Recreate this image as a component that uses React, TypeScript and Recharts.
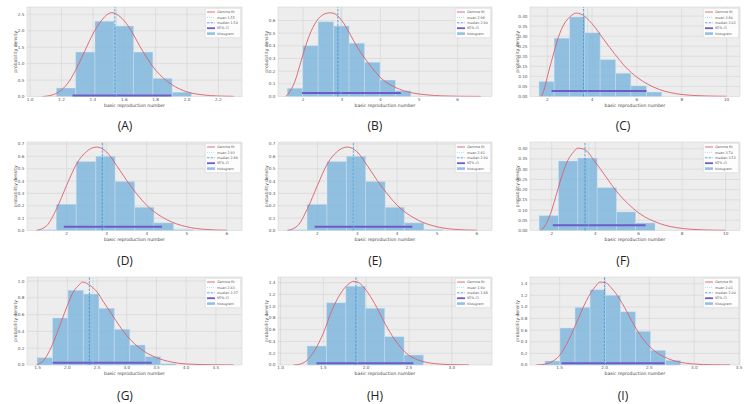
import React from 'react';
import {
  ComposedChart,
  Line,
  XAxis,
  YAxis,
  CartesianGrid,
  ReferenceArea,
  ReferenceLine,
  Legend,
} from 'recharts';

// ---------- Panel A ----------
const aBinEdges = [1.167, 1.29, 1.413, 1.536, 1.659, 1.782, 1.905, 2.028];
const aBinHeights = [0.26, 1.35, 2.29, 2.14, 1.35, 0.55, 0.13];
const aFitX = [1.08, 1.15, 1.2, 1.25, 1.3, 1.35, 1.4, 1.45, 1.5, 1.52, 1.55, 1.6, 1.65, 1.7, 1.8, 1.9, 2.0, 2.1, 2.2, 2.3];
const aFitY = [0.0, 0.06, 0.2, 0.47, 0.9, 1.4, 1.9, 2.28, 2.52, 2.55, 2.5, 2.3, 1.95, 1.52, 0.8, 0.37, 0.14, 0.05, 0.015, 0.004];
const aStats = [1.55, 1.54, 1.27, 1.9, 0.03]; // mean, median, ci low, ci high, ci y
const aXTicks = [1.0, 1.2, 1.4, 1.6, 1.8, 2.0, 2.2];
const aYTicks = [0, 0.5, 1.0, 1.5, 2.0, 2.5];

// ---------- Panel B ----------
const bBinEdges = [1.59, 1.99, 2.39, 2.79, 3.19, 3.59, 3.99, 4.39, 4.79];
const bBinHeights = [0.066, 0.4, 0.59, 0.556, 0.42, 0.27, 0.13, 0.045];
const bFitX = [1.55, 1.7, 1.8, 1.9, 2.0, 2.2, 2.4, 2.6, 2.7, 2.8, 3.0, 3.2, 3.4, 3.6, 3.8, 4.0, 4.4, 4.8, 5.2, 5.6, 6.0, 6.6];
const bFitY = [0.0, 0.06, 0.13, 0.23, 0.335, 0.51, 0.615, 0.656, 0.66, 0.655, 0.6, 0.5, 0.39, 0.3, 0.22, 0.15, 0.07, 0.03, 0.013, 0.005, 0.002, 0.0005];
const bStats = [2.98, 2.9, 1.97, 4.53, 0.028];
const bXTicks = [2, 3, 4, 5, 6];
const bYTicks = [0, 0.1, 0.2, 0.3, 0.4, 0.5, 0.6];

// ---------- Panel C ----------
const cBinEdges = [1.63, 2.31, 3.0, 3.68, 4.36, 5.05, 5.73, 6.43, 7.11];
const cBinHeights = [0.075, 0.29, 0.395, 0.317, 0.183, 0.116, 0.053, 0.022];
const cFitX = [1.75, 1.9, 2.0, 2.25, 2.5, 2.75, 3.0, 3.3, 3.5, 4.0, 4.5, 5.0, 5.5, 6.0, 6.5, 7.0, 8.0, 9.0, 10.0];
const cFitY = [0.0, 0.05, 0.096, 0.2, 0.296, 0.36, 0.395, 0.415, 0.41, 0.362, 0.287, 0.213, 0.146, 0.096, 0.06, 0.035, 0.01, 0.003, 0.001];
const cStats = [3.8, 3.62, 2.19, 6.43, 0.027];
const cXTicks = [2, 4, 6, 8, 10];
const cYTicks = [0, 0.05, 0.1, 0.15, 0.2, 0.25, 0.3, 0.35, 0.4];

// ---------- Panel D ----------
const dBinEdges = [1.26, 1.74, 2.24, 2.73, 3.21, 3.7, 4.18, 4.67, 5.15];
const dBinHeights = [0.006, 0.212, 0.558, 0.6, 0.397, 0.188, 0.062, 0.008];
const dFitX = [1.24, 1.5, 1.75, 2.0, 2.25, 2.5, 2.75, 3.0, 3.25, 3.5, 3.75, 4.0, 4.5, 5.0, 5.5, 6.0];
const dFitY = [0.0, 0.038, 0.177, 0.365, 0.54, 0.64, 0.675, 0.635, 0.525, 0.405, 0.297, 0.204, 0.088, 0.03, 0.008, 0.002];
const dStats = [2.93, 2.89, 1.93, 4.38, 0.03];
const dXTicks = [2, 3, 4, 5, 6];
const dYTicks = [0, 0.1, 0.2, 0.3, 0.4, 0.5, 0.6, 0.7];

// ---------- Panel E ----------
const eBinEdges = [1.26, 1.74, 2.24, 2.73, 3.21, 3.7, 4.18, 4.67, 5.15];
const eBinHeights = [0.006, 0.212, 0.558, 0.6, 0.397, 0.188, 0.062, 0.008];
const eFitX = [1.24, 1.5, 1.75, 2.0, 2.25, 2.5, 2.75, 3.0, 3.25, 3.5, 3.75, 4.0, 4.5, 5.0, 5.5, 6.0];
const eFitY = [0.0, 0.038, 0.177, 0.365, 0.54, 0.64, 0.675, 0.635, 0.525, 0.405, 0.297, 0.204, 0.088, 0.03, 0.008, 0.002];
const eStats = [2.91, 2.9, 1.93, 4.38, 0.03];
const eXTicks = [2, 3, 4, 5, 6];
const eYTicks = [0, 0.1, 0.2, 0.3, 0.4, 0.5, 0.6, 0.7];

// ---------- Panel F ----------
const fBinEdges = [1.42, 2.31, 3.2, 4.09, 4.98, 5.86, 6.75];
const fBinHeights = [0.073, 0.34, 0.355, 0.21, 0.091, 0.037];
const fFitX = [1.5, 1.75, 2.0, 2.25, 2.5, 2.75, 3.0, 3.2, 3.5, 4.0, 4.5, 5.0, 5.5, 6.0, 7.0, 8.0, 9.0, 10.0];
const fFitY = [0.0, 0.034, 0.1, 0.19, 0.278, 0.345, 0.384, 0.403, 0.397, 0.335, 0.262, 0.189, 0.132, 0.086, 0.033, 0.01, 0.003, 0.001];
const fStats = [3.7, 3.53, 2.05, 6.32, 0.026];
const fXTicks = [2, 4, 6, 8, 10];
const fYTicks = [0, 0.05, 0.1, 0.15, 0.2, 0.25, 0.3, 0.35, 0.4];

// ---------- Panel G ----------
const gBinEdges = [1.49, 1.75, 2.01, 2.27, 2.53, 2.79, 3.05, 3.31, 3.57, 3.83];
const gBinHeights = [0.087, 0.56, 0.89, 0.845, 0.675, 0.425, 0.238, 0.1, 0.015];
const gFitX = [1.48, 1.6, 1.7, 1.8, 1.9, 2.0, 2.1, 2.2, 2.25, 2.3, 2.4, 2.5, 2.6, 2.75, 3.0, 3.25, 3.5, 3.75, 4.0, 4.5, 4.8];
const gFitY = [0.0, 0.055, 0.17, 0.333, 0.52, 0.71, 0.87, 0.956, 0.988, 0.98, 0.937, 0.87, 0.76, 0.6, 0.35, 0.183, 0.087, 0.036, 0.012, 0.002, 0.0005];
const gStats = [2.43, 2.37, 1.75, 3.42, 0.028];
const gXTicks = [1.5, 2.0, 2.5, 3.0, 3.5, 4.0, 4.5];
const gYTicks = [0, 0.2, 0.4, 0.6, 0.8, 1.0];

// ---------- Panel H ----------
const hBinEdges = [1.31, 1.537, 1.763, 1.99, 2.216, 2.443, 2.67];
const hBinHeights = [0.323, 1.06, 1.338, 0.964, 0.482, 0.17];
const hFitX = [1.15, 1.2, 1.3, 1.4, 1.5, 1.6, 1.7, 1.8, 1.85, 1.9, 2.0, 2.1, 2.2, 2.3, 2.4, 2.5, 2.6, 2.8, 3.0, 3.2];
const hFitY = [0.0, 0.006, 0.068, 0.25, 0.544, 0.93, 1.213, 1.383, 1.423, 1.41, 1.27, 1.043, 0.76, 0.505, 0.306, 0.164, 0.09, 0.023, 0.006, 0.001];
const hStats = [1.9, 1.88, 1.42, 2.55, 0.028];
const hXTicks = [1.0, 1.5, 2.0, 2.5, 3.0];
const hYTicks = [0, 0.2, 0.4, 0.6, 0.8, 1.0, 1.2, 1.4];

// ---------- Panel I ----------
const iBinEdges = [1.336, 1.504, 1.672, 1.84, 2.008, 2.177, 2.345, 2.513, 2.681, 2.849];
const iBinHeights = [0.069, 0.637, 0.993, 1.297, 1.2, 0.918, 0.58, 0.252, 0.08];
const iFitX = [1.24, 1.3, 1.4, 1.5, 1.6, 1.7, 1.8, 1.9, 1.95, 2.0, 2.1, 2.2, 2.3, 2.4, 2.5, 2.6, 2.7, 2.8, 3.0, 3.2, 3.4];
const iFitY = [0.0, 0.006, 0.046, 0.166, 0.425, 0.769, 1.113, 1.354, 1.428, 1.423, 1.285, 1.056, 0.77, 0.51, 0.321, 0.195, 0.115, 0.063, 0.017, 0.004, 0.001];
const iStats = [2.01, 2.0, 1.52, 2.67, 0.03];
const iXTicks = [1.5, 2.0, 2.5, 3.0, 3.5];
const iYTicks = [0, 0.2, 0.4, 0.6, 0.8, 1.0, 1.2, 1.4];

const RED = '#da5f6d';
const MEAN_C = '#9dd2ee';
const MEDIAN_C = '#3f90d4';
const CI_C = '#6e5cc8';
const HIST_C = '#7fb6dd';
const FONT = '"DejaVu Sans", sans-serif';

type PanelDef = {
  label: string;
  col: number;
  row: number;
  edges: number[];
  heights: number[];
  fitX: number[];
  fitY: number[];
  stats: number[];
  xTicks: number[];
  yTicks: number[];
  xDomain: [number, number];
  yDomain: [number, number];
  xDec: number;
  yDec: number;
  plotLeft: number;
  plotRight: number;
  yLabelX: number;
};

const COLS = [0, 250, 498];
const ROWS = [0, 135, 270];
const PLOT_BOTTOM_REL = [96.5, 95.5, 95];

const panels: PanelDef[] = [
  { label: '(A)', col: 0, row: 0, edges: aBinEdges, heights: aBinHeights, fitX: aFitX, fitY: aFitY, stats: aStats, xTicks: aXTicks, yTicks: aYTicks, xDomain: [0.98, 2.35], yDomain: [0, 2.72], xDec: 1, yDec: 1, plotLeft: 27, plotRight: 242, yLabelX: 15 },
  { label: '(B)', col: 1, row: 0, edges: bBinEdges, heights: bBinHeights, fitX: bFitX, fitY: bFitY, stats: bStats, xTicks: bXTicks, yTicks: bYTicks, xDomain: [1.35, 6.89], yDomain: [0, 0.706], xDec: 0, yDec: 1, plotLeft: 278, plotRight: 492, yLabelX: 16 },
  { label: '(C)', col: 2, row: 0, edges: cBinEdges, heights: cBinHeights, fitX: cFitX, fitY: cFitY, stats: cStats, xTicks: cXTicks, yTicks: cYTicks, xDomain: [1.23, 10.6], yDomain: [0, 0.445], xDec: 0, yDec: 2, plotLeft: 530, plotRight: 740, yLabelX: 19 },
  { label: '(D)', col: 0, row: 1, edges: dBinEdges, heights: dBinHeights, fitX: dFitX, fitY: dFitY, stats: dStats, xTicks: dXTicks, yTicks: dYTicks, xDomain: [1.01, 6.38], yDomain: [0, 0.716], xDec: 0, yDec: 1, plotLeft: 27, plotRight: 242, yLabelX: 15 },
  { label: '(E)', col: 1, row: 1, edges: eBinEdges, heights: eBinHeights, fitX: eFitX, fitY: eFitY, stats: eStats, xTicks: eXTicks, yTicks: eYTicks, xDomain: [1.01, 6.38], yDomain: [0, 0.716], xDec: 0, yDec: 1, plotLeft: 278, plotRight: 492, yLabelX: 16 },
  { label: '(F)', col: 2, row: 1, edges: fBinEdges, heights: fBinHeights, fitX: fFitX, fitY: fFitY, stats: fStats, xTicks: fXTicks, yTicks: fYTicks, xDomain: [1.0, 10.66], yDomain: [0, 0.433], xDec: 0, yDec: 2, plotLeft: 530, plotRight: 740, yLabelX: 19 },
  { label: '(G)', col: 0, row: 2, edges: gBinEdges, heights: gBinHeights, fitX: gFitX, fitY: gFitY, stats: gStats, xTicks: gXTicks, yTicks: gYTicks, xDomain: [1.32, 4.94], yDomain: [0, 1.048], xDec: 1, yDec: 1, plotLeft: 27, plotRight: 242, yLabelX: 15 },
  { label: '(H)', col: 1, row: 2, edges: hBinEdges, heights: hBinHeights, fitX: hFitX, fitY: hFitY, stats: hStats, xTicks: hXTicks, yTicks: hYTicks, xDomain: [0.97, 3.47], yDomain: [0, 1.496], xDec: 1, yDec: 1, plotLeft: 278, plotRight: 492, yLabelX: 16 },
  { label: '(I)', col: 2, row: 2, edges: iBinEdges, heights: iBinHeights, fitX: iFitX, fitY: iFitY, stats: iStats, xTicks: iXTicks, yTicks: iYTicks, xDomain: [1.17, 3.51], yDomain: [0, 1.515], xDec: 1, yDec: 1, plotLeft: 530, plotRight: 740, yLabelX: 19 },
];

const LegendBox = ({ mean, median }: { mean: string; median: string }) => {
  const rows = [4, 9.4, 14.8, 20.2, 25.6];
  const ts = { fontSize: 3.3, fill: '#555', fontFamily: FONT } as const;
  return (
    <svg width={36} height={30} style={{ display: 'block', overflow: 'visible' }}>
      <rect x={0.25} y={0.25} width={35.5} height={29.5} rx={1.2} fill="#ffffff" fillOpacity={0.85} stroke="#cfcfcf" strokeWidth={0.5} />
      <line x1={2} x2={10} y1={rows[0]} y2={rows[0]} stroke={RED} strokeWidth={0.9} />
      <text x={12} y={rows[0]} dy={1.1} {...ts}>Gamma fit</text>
      <line x1={2} x2={10} y1={rows[1]} y2={rows[1]} stroke={MEAN_C} strokeWidth={0.8} strokeDasharray="1 1" />
      <text x={12} y={rows[1]} dy={1.1} {...ts}>mean {mean}</text>
      <line x1={2} x2={10} y1={rows[2]} y2={rows[2]} stroke={MEDIAN_C} strokeWidth={0.8} strokeDasharray="2.5 1.2" />
      <text x={12} y={rows[2]} dy={1.1} {...ts}>median {median}</text>
      <line x1={2} x2={10} y1={rows[3]} y2={rows[3]} stroke={CI_C} strokeWidth={1.8} />
      <text x={12} y={rows[3]} dy={1.1} {...ts}>95% CI</text>
      <rect x={2} y={rows[4] - 1.3} width={8} height={2.6} fill={HIST_C} fillOpacity={0.85} />
      <text x={12} y={rows[4]} dy={1.1} {...ts}>histogram</text>
    </svg>
  );
};

const Panel = ({ p }: { p: PanelDef }) => {
  const colX = COLS[p.col];
  const rowY = ROWS[p.row];
  const plotTop = 7;
  const plotBottom = PLOT_BOTTOM_REL[p.row];
  const xAxisH = 12;
  const height = plotBottom + xAxisH + 2;
  const width = Math.min(748 - colX, p.plotRight + 8 - colX);
  const rightMargin = width - (p.plotRight - colX);
  const yAxisW = p.plotLeft - colX;
  const fit = p.fitX.map((x, i) => ({ x, y: p.fitY[i] }));
  const [mean, median, ciLo, ciHi, ciY] = p.stats;
  const tickStyle = { fontSize: 4.2, fill: '#555', fontFamily: FONT };
  return (
    <div style={{ position: 'absolute', left: colX, top: rowY, width: 250, height: 135 }}>
      <ComposedChart
        width={width}
        height={height}
        data={fit}
        margin={{ top: plotTop, right: rightMargin, left: 0, bottom: 2 }}
      >
        <CartesianGrid stroke="#d2d2d2" strokeWidth={0.55} fill="#ededed" />
        <XAxis
          dataKey="x"
          type="number"
          domain={p.xDomain}
          ticks={p.xTicks}
          interval={0}
          allowDataOverflow
          tickFormatter={(v: number) => v.toFixed(p.xDec)}
          tick={tickStyle}
          tickLine={false}
          axisLine={false}
          tickSize={1}
          tickMargin={0.5}
          height={xAxisH}
          label={{ value: 'basic reproduction number', position: 'insideBottom', offset: 2, fontSize: 4.5, fill: '#444', fontFamily: FONT }}
        />
        <YAxis
          type="number"
          domain={p.yDomain}
          ticks={p.yTicks}
          interval={0}
          allowDataOverflow
          tickFormatter={(v: number) => v.toFixed(p.yDec)}
          tick={tickStyle}
          tickLine={false}
          axisLine={false}
          tickSize={1}
          tickMargin={1.5}
          width={yAxisW}
          label={{ value: 'probability density', angle: -90, position: 'insideLeft', offset: p.yLabelX, fontSize: 4.5, fill: '#444', fontFamily: FONT, style: { textAnchor: 'middle' } }}
        />
        {p.heights.map((h, i) => (
          <ReferenceArea
            key={i}
            x1={p.edges[i]}
            x2={p.edges[i + 1]}
            y1={0}
            y2={h}
            fill={HIST_C}
            fillOpacity={0.85}
            stroke="#d3e6f3"
            strokeWidth={0.4}
            ifOverflow="visible"
          />
        ))}
        <ReferenceLine
          segment={[{ x: ciLo, y: ciY }, { x: ciHi, y: ciY }]}
          stroke={CI_C}
          strokeWidth={2}
          ifOverflow="visible"
        />
        <ReferenceLine x={median} stroke={MEDIAN_C} strokeWidth={0.8} strokeDasharray="2.5 1.2" />
        <ReferenceLine x={mean} stroke={MEAN_C} strokeWidth={0.8} strokeDasharray="1 1" />
        <Line
          dataKey="y"
          type="monotone"
          stroke={RED}
          strokeWidth={0.9}
          dot={false}
          activeDot={false}
          isAnimationActive={false}
        />
        <Legend
          layout="horizontal"
          align="center"
          verticalAlign="middle"
          width={36}
          height={30}
          wrapperStyle={{ top: plotTop + 1, right: rightMargin + 1, left: 'auto', bottom: 'auto', width: 36, height: 30 }}
          content={() => <LegendBox mean={mean.toFixed(2)} median={median.toFixed(2)} />}
        />
      </ComposedChart>
      <div
        style={{
          position: 'absolute',
          left: 0,
          top: 117,
          width: 250,
          textAlign: 'center',
          fontFamily: '"Open Sans", sans-serif',
          fontSize: 12,
          lineHeight: '18px',
          color: '#222',
        }}
      >
        {p.label}
      </div>
    </div>
  );
};

export default function App() {
  return (
    <div style={{ position: 'absolute', left: 0, top: 0, width: 748, height: 404, background: '#ffffff', overflow: 'hidden' }}>
      {panels.map((p) => (
        <Panel key={p.label} p={p} />
      ))}
    </div>
  );
}
